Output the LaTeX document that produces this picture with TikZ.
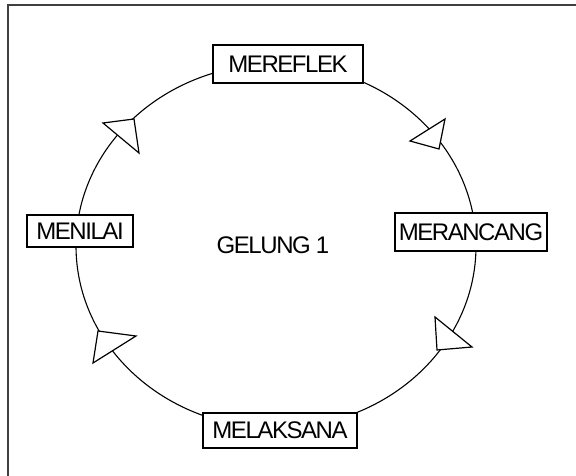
\documentclass[tikz,border=0pt]{standalone}
\usepackage{fontspec}
\setmainfont{Liberation Sans}
\newfontfamily\rapat[LetterSpace=-6]{Liberation Sans}
\usetikzlibrary{calc}

\begin{document}
\begin{tikzpicture}[x=1pt,y=-1pt,
  tahap/.style={draw, fill=white, line width=1.4pt, inner sep=2pt,
    minimum height=36pt, font=\rapat\fontsize{24}{28}\selectfont},
  panah/.style={draw, fill=white, line width=1.2pt, line join=miter}]

  \useasboundingbox (0,0) rectangle (576,476);

  % bingkai
  \draw[line width=1.4pt, black!75] (8,476) -- (8,5) -- (576,5);

  % gelung
  \coordinate (o) at (276,246);
  \draw[line width=1.1pt] (o) ellipse [x radius=200pt, y radius=182pt];

  \node[font=\rapat\fontsize{24}{28}\selectfont] (gelung) at (273,245) {GELUNG 1};

  \node[tahap, minimum width=150pt, minimum height=38pt] (mereflek)  at (288,64)    {MEREFLEK};
  \node[tahap, minimum width=152pt, minimum height=38pt] (merancang) at (471,232)   {MERANCANG};
  \node[tahap, minimum width=106pt, minimum height=32pt] (menilai)   at (80,231)    {MENILAI};
  \node[tahap, minimum width=154pt, minimum height=35pt] (melaksana) at (280,430.5) {MELAKSANA};

  % anak panah
  \coordinate (a1) at (103,123);
  \coordinate (a2) at (134,119);
  \coordinate (a3) at (139,153);
  \coordinate (b1) at (410,141);
  \coordinate (b2) at (445,119);
  \coordinate (b3) at (439,149);
  \coordinate (c1) at (435,317);
  \coordinate (c2) at (472,347);
  \coordinate (c3) at (437,350);
  \coordinate (d1) at (98,331);
  \coordinate (d2) at (136,336);
  \coordinate (d3) at (93,363);
  \foreach \t in {a,b,c,d}
    \path[panah] (\t1) -- (\t2) -- (\t3) -- cycle;

\end{tikzpicture}
\end{document}
